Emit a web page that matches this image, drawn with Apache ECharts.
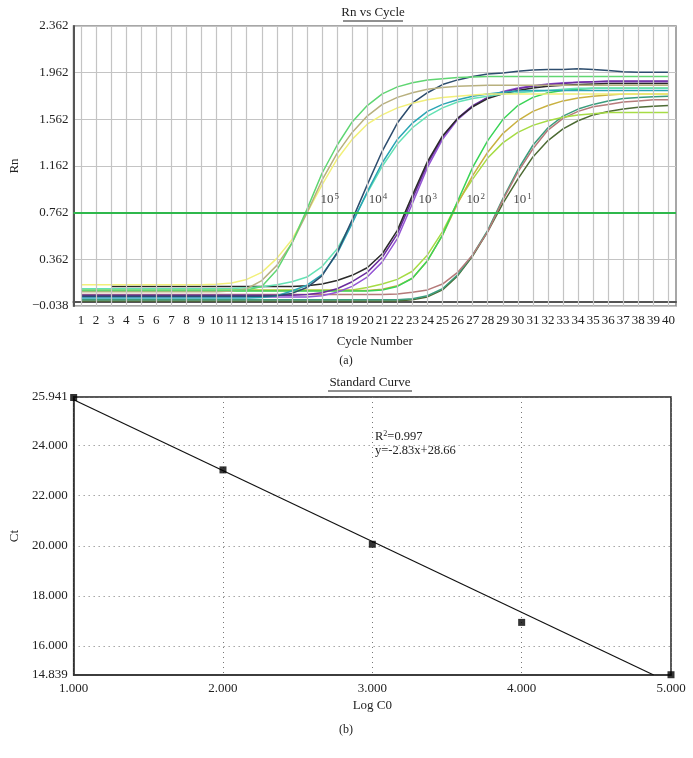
<!DOCTYPE html>
<html><head><meta charset="utf-8">
<script src="https://cdn.jsdelivr.net/npm/echarts@6/dist/echarts.min.js"></script>
<style>html,body{margin:0;padding:0;background:#fff}#c{width:693px;height:758px}</style>
</head><body><div id="c"></div>
<script>
// ---------- Panel (a): Rn vs Cycle ----------
const cycles = [1,2,3,4,5,6,7,8,9,10,11,12,13,14,15,16,17,18,19,20,21,22,23,24,25,26,27,28,29,30,31,32,33,34,35,36,37,38,39,40];
const rnTicks = [-0.038, 0.362, 0.762, 1.162, 1.562, 1.962, 2.362];
const threshold = 0.762;

// 10^5
const g5 = [0.095,0.095,0.095,0.095,0.095,0.095,0.095,0.095,0.095,0.095,0.096,0.10,0.13,0.27,0.50,0.79,1.10,1.34,1.54,1.68,1.78,1.84,1.875,1.90,1.91,1.92,1.925,1.93,1.93,1.93,1.93,1.93,1.93,1.93,1.93,1.93,1.93,1.93,1.93,1.93];
const t5 = [0.085,0.085,0.085,0.085,0.085,0.085,0.085,0.085,0.085,0.085,0.09,0.11,0.18,0.31,0.50,0.76,1.04,1.27,1.45,1.59,1.69,1.75,1.79,1.82,1.835,1.845,1.85,1.855,1.855,1.855,1.855,1.855,1.855,1.855,1.855,1.855,1.855,1.855,1.855,1.855];
const y5 = [0.145,0.145,0.145,0.145,0.145,0.145,0.145,0.145,0.145,0.148,0.16,0.19,0.25,0.37,0.53,0.76,1.00,1.22,1.39,1.52,1.60,1.66,1.70,1.73,1.75,1.76,1.77,1.78,1.78,1.78,1.78,1.78,1.78,1.78,1.78,1.78,1.78,1.78,1.78,1.78];
// 10^4
const n4 = [0.045,0.045,0.045,0.045,0.045,0.045,0.045,0.045,0.045,0.045,0.045,0.045,0.045,0.05,0.07,0.12,0.22,0.42,0.70,1.00,1.29,1.53,1.70,1.79,1.86,1.90,1.93,1.95,1.96,1.975,1.985,1.99,1.99,1.995,1.99,1.98,1.97,1.965,1.965,1.965];
const t4 = [0.03,0.03,0.03,0.03,0.03,0.03,0.03,0.03,0.03,0.03,0.03,0.03,0.035,0.05,0.09,0.14,0.23,0.41,0.67,0.94,1.19,1.39,1.53,1.63,1.69,1.73,1.76,1.78,1.795,1.805,1.81,1.81,1.81,1.81,1.81,1.81,1.81,1.81,1.81,1.81];
const a4 = [0.11,0.11,0.11,0.11,0.11,0.11,0.11,0.11,0.11,0.11,0.112,0.118,0.128,0.145,0.17,0.21,0.30,0.45,0.68,0.93,1.16,1.35,1.49,1.59,1.66,1.71,1.74,1.76,1.78,1.79,1.80,1.81,1.82,1.828,1.828,1.828,1.828,1.828,1.828,1.828];
// 10^3
const k3 = [null,null,0.13,0.13,0.13,0.13,0.13,0.13,0.13,0.13,0.13,0.13,0.13,0.13,0.13,0.135,0.15,0.18,0.225,0.29,0.41,0.61,0.91,1.20,1.42,1.57,1.67,1.74,1.78,1.81,1.83,1.845,1.855,1.86,1.865,1.87,1.87,1.87,1.87,1.87];
const p3 = [0.055,0.055,0.055,0.055,0.055,0.055,0.055,0.055,0.055,0.055,0.055,0.055,0.055,0.055,0.055,0.06,0.075,0.11,0.17,0.25,0.38,0.58,0.88,1.18,1.41,1.57,1.68,1.75,1.795,1.825,1.845,1.86,1.87,1.88,1.885,1.89,1.89,1.89,1.89,1.89];
const v3 = [0.04,0.04,0.04,0.04,0.04,0.04,0.04,0.04,0.04,0.04,0.04,0.04,0.04,0.04,0.04,0.04,0.05,0.08,0.13,0.21,0.34,0.54,0.84,1.15,1.39,1.56,1.67,1.75,1.80,1.83,1.85,1.865,1.875,1.88,1.885,1.885,1.885,1.885,1.885,1.885];
// 10^2
const g2 = [0.09,0.09,0.09,0.09,0.09,0.09,0.09,0.09,0.09,0.09,0.09,0.09,0.09,0.09,0.09,0.09,0.09,0.09,0.09,0.09,0.10,0.13,0.20,0.35,0.57,0.86,1.15,1.38,1.56,1.68,1.75,1.79,1.81,1.82,1.828,1.828,1.828,1.828,1.828,1.828];
const go2 = [0.095,0.095,0.095,0.095,0.095,0.095,0.095,0.095,0.095,0.095,0.095,0.095,0.095,0.095,0.095,0.095,0.095,0.095,0.095,0.095,0.105,0.135,0.20,0.35,0.57,0.84,1.08,1.28,1.44,1.55,1.63,1.68,1.72,1.745,1.76,1.77,1.78,1.78,1.78,1.78];
const yg2 = [0.10,0.10,0.10,0.10,0.10,0.10,0.10,0.10,0.10,0.10,0.10,0.10,0.10,0.10,0.10,0.10,0.10,0.10,0.10,0.12,0.15,0.19,0.26,0.40,0.60,0.85,1.05,1.23,1.36,1.45,1.51,1.55,1.58,1.60,1.61,1.62,1.62,1.62,1.62,1.62];
// 10^1
const r1 = [0.06,0.06,0.06,0.06,0.06,0.06,0.06,0.06,0.06,0.06,0.06,0.06,0.06,0.06,0.06,0.06,0.06,0.06,0.06,0.06,0.06,0.065,0.08,0.10,0.15,0.25,0.40,0.60,0.87,1.11,1.31,1.47,1.57,1.63,1.67,1.69,1.71,1.72,1.73,1.73];
const tg1 = [0.015,0.015,0.015,0.015,0.015,0.015,0.015,0.015,0.015,0.015,0.015,0.015,0.015,0.015,0.015,0.015,0.015,0.015,0.015,0.015,0.015,0.015,0.025,0.05,0.11,0.23,0.40,0.61,0.88,1.13,1.34,1.49,1.59,1.65,1.69,1.72,1.74,1.75,1.755,1.76];
const do1 = [0.005,0.005,0.005,0.005,0.005,0.005,0.005,0.005,0.005,0.005,0.005,0.005,0.005,0.005,0.005,0.005,0.005,0.005,0.005,0.005,0.005,0.005,0.015,0.04,0.10,0.22,0.39,0.60,0.84,1.05,1.24,1.38,1.48,1.55,1.60,1.63,1.65,1.665,1.675,1.68];

const curveData = [do1, tg1, r1, yg2, go2, g2, v3, p3, k3, a4, t4, n4, y5, t5, g5];
const curveColors = ['#4d6b34','#3a9c7c','#b57a7a','#a6dc44','#c9b13f','#3ad456','#9455d4','#6b2c9e','#2a2a2a','#64e2b4','#2aa5b5','#2d4d6e','#f2f07a','#b8b07e','#5fd672'];

const dilExp = ['5','4','3','2','1'];
const dilLabelCycle = [16.9, 20.1, 23.4, 26.6, 29.7];
const dilLabelRn = [0.87, 0.87, 0.87, 0.87, 0.87];

// ---------- Panel (b): Standard Curve ----------
const logC0 = [1, 2, 3, 4, 5];
const ct = [25.92, 23.03, 20.06, 16.94, 14.85];
const ctTicks = [14.839, 16, 18, 20, 22, 24, 25.941];
const fitX = [1, 4.884];
const fitY = [25.83, 14.839];

const FONT = '"Liberation Serif", "DejaVu Serif", serif';
const chart = echarts.init(document.getElementById('c'));

const series = [];
// vertical grid lines through each cycle
series.push({
  type: 'line', xAxisIndex: 0, yAxisIndex: 0, data: [], silent: true, z: 1,
  markLine: { symbol: 'none', silent: true, label: { show: false }, animation: false,
    lineStyle: { color: '#c4c4c4', width: 1.2, type: 'solid' },
    data: cycles.map(c => ({ xAxis: c })) }
});
curveData.forEach((arr, i) => {
  series.push({
    type: 'line', xAxisIndex: 0, yAxisIndex: 0,
    data: cycles.map((c, j) => [c, arr[j]]),
    showSymbol: false, symbol: 'none', silent: true, connectNulls: false,
    lineStyle: { color: curveColors[i], width: 1.5 },
    z: 3
  });
});
series.push({
  type: 'line', xAxisIndex: 0, yAxisIndex: 0, data: [], silent: true,
  markLine: { symbol: 'none', silent: true, label: { show: false },
    lineStyle: { color: '#2fb84c', width: 2, type: 'solid' },
    data: [{ yAxis: threshold }] },
  z: 4
});
series.push({
  type: 'scatter', xAxisIndex: 0, yAxisIndex: 0, symbolSize: 0, silent: true,
  data: dilExp.map((e, i) => [dilLabelCycle[i], dilLabelRn[i], e]),
  label: { show: true, position: 'right', distance: 0,
    formatter: p => '{b|10}{s|' + p.value[2] + '}',
    rich: { b: { fontFamily: FONT, fontSize: 13, color: '#111', lineHeight: 15 },
            s: { fontFamily: FONT, fontSize: 9, color: '#111', verticalAlign: 'top', lineHeight: 9, padding: [0,0,0,1] } } },
  z: 5
});
series.push({
  type: 'line', xAxisIndex: 1, yAxisIndex: 1, silent: true,
  data: fitX.map((x, i) => [x, fitY[i]]), showSymbol: false, symbol: 'none',
  lineStyle: { color: '#111', width: 1.2 }, z: 3
});
series.push({
  type: 'scatter', xAxisIndex: 1, yAxisIndex: 1, silent: true,
  data: logC0.map((x, i) => [x, ct[i]]), symbol: 'rect', symbolSize: 7,
  itemStyle: { color: '#000' }, z: 6, clip: false
});

const lbl = { fontFamily: FONT, fontSize: 13, color: '#222' };

chart.setOption({
  animation: false,
  backgroundColor: '#fff',
  grid: [
    { left: 70, top: 26, width: 606, height: 280, show: true, borderColor: '#8a8a8a', borderWidth: 1.5 },
    { left: 68, top: 397, width: 603, height: 278, show: true, borderColor: '#222', borderWidth: 1.5 }
  ],
  xAxis: [
    { type: 'value', gridIndex: 0, min: 0.5, max: 40.5,
      name: 'Cycle Number', nameLocation: 'middle', nameGap: 29,
      nameTextStyle: { fontFamily: FONT, fontSize: 13, color: '#222' },
      axisLine: { lineStyle: { color: '#555', width: 2 } },
      axisTick: { show: false, customValues: cycles },
      axisLabel: Object.assign({ customValues: cycles, margin: 8, formatter: v => String(Math.round(v)) }, lbl),
      splitLine: { show: false } },
    { type: 'value', gridIndex: 1, min: 1, max: 5, interval: 1,
      name: 'Log C0', nameLocation: 'middle', nameGap: 24,
      nameTextStyle: { fontFamily: FONT, fontSize: 13, color: '#222' },
      axisLine: { lineStyle: { color: '#333', width: 1.5 } },
      axisTick: { show: false },
      axisLabel: Object.assign({ margin: 7, formatter: v => v.toFixed(3) }, lbl),
      splitLine: { show: true, lineStyle: { color: '#777', width: 1, type: [1, 4] } } }
  ],
  yAxis: [
    { type: 'value', gridIndex: 0, min: -0.038, max: 2.362, interval: 0.4,
      name: 'Rn', nameLocation: 'middle', nameGap: 37, nameRotate: 90,
      nameTextStyle: { fontFamily: FONT, fontSize: 13, color: '#222' },
      axisLine: { show: true, lineStyle: { color: '#555', width: 2 } },
      axisTick: { show: false, customValues: rnTicks },
      axisLabel: Object.assign({ customValues: rnTicks, margin: 5, formatter: v => v.toFixed(3).replace('-', '\u2212') }, lbl),
      splitLine: { show: true, lineStyle: { color: '#c4c4c4', width: 1.2 } } },
    { type: 'value', gridIndex: 1, min: 14.839, max: 25.941,
      name: 'Ct', nameLocation: 'middle', nameGap: 52, nameRotate: 90,
      nameTextStyle: { fontFamily: FONT, fontSize: 13, color: '#222' },
      axisLine: { show: true, lineStyle: { color: '#333', width: 1.5 } },
      axisTick: { show: false, customValues: ctTicks },
      axisLabel: Object.assign({ customValues: ctTicks, margin: 6, formatter: v => v.toFixed(3) }, lbl),
      splitLine: { show: true, lineStyle: { color: '#777', width: 1, type: [1, 4] } } }
  ],
  graphic: [
    { type: 'text', x: 373, y: 6, style: { text: 'Rn vs Cycle', font: '13px ' + FONT, fill: '#222', align: 'center' } },
    { type: 'line', shape: { x1: 343, y1: 21, x2: 403, y2: 21 }, style: { stroke: '#222', lineWidth: 1 } },
    { type: 'text', x: 346, y: 355, style: { text: '(a)', font: '12px ' + FONT, fill: '#222', align: 'center' } },
    { type: 'text', x: 370, y: 376, style: { text: 'Standard Curve', font: '13px ' + FONT, fill: '#222', align: 'center' } },
    { type: 'line', shape: { x1: 328, y1: 391, x2: 412, y2: 391 }, style: { stroke: '#222', lineWidth: 1 } },
    { type: 'text', x: 346, y: 724, style: { text: '(b)', font: '12px ' + FONT, fill: '#222', align: 'center' } },
    { type: 'text', x: 375, y: 430, style: { text: '{r|R}{s|2}{r|=0.997}',
        rich: { r: { fontFamily: FONT, fontSize: 12.5, fill: '#222', lineHeight: 14 },
                s: { fontFamily: FONT, fontSize: 8, fill: '#222', verticalAlign: 'top', lineHeight: 9 } } } },
    { type: 'text', x: 375, y: 444, style: { text: 'y=-2.83x+28.66', font: '12.5px ' + FONT, fill: '#222' } }
  ],
  series: series
});
</script>
</body></html>
